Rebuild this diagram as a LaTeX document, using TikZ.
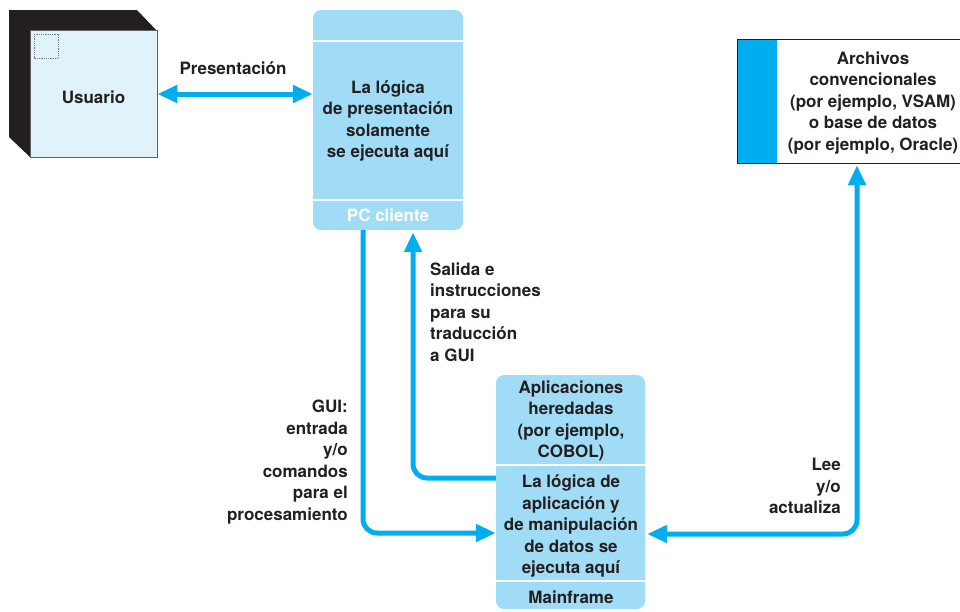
\documentclass[tikz,border=0pt]{standalone}
\usepackage{fontspec}
\setmainfont{TeX Gyre Heros}
\usetikzlibrary{arrows.meta,positioning}
\definecolor{boxblue}{RGB}{160,220,246}
\definecolor{flowcyan}{RGB}{0,174,239}
\definecolor{userface}{RGB}{224,242,250}
\definecolor{ink}{RGB}{35,31,32}

\begin{document}
\begin{tikzpicture}[x=1pt, y=-1pt, >={Triangle[length=20pt,width=17pt]},
    every node/.style={font=\fontsize{17}{21.5}\selectfont\bfseries, text=ink},
    bluebox/.style={fill=boxblue, rounded corners=8pt, inner sep=0pt},
    divider/.style={white, line width=2pt},
    flow/.style={flowcyan, line width=5pt, rounded corners=14pt},
    lbl/.style={align=left, inner sep=0pt}]
    \useasboundingbox (0,0) rectangle (960,611);
    % usuario (cube)
    \fill[ink] (9,10) -- (137,10) -- (157,31) -- (157,157) -- (30,157) -- (9,137) -- cycle;
    \node[fill=userface, draw=ink!70, line width=0.8pt, minimum size=127pt, inner sep=0pt, text height=20pt] (user) at (93.5,94) {Usuario};
    \draw[ink!60, densely dotted, line width=0.8pt] (34,34) rectangle (58,58);
    % PC cliente
    \node[bluebox, minimum width=150pt, minimum height=220pt] (pc) at (388,120) {};
    \draw[divider] (pc.west |- 0,41) -- (pc.east |- 0,41);
    \draw[divider] (pc.west |- 0,200) -- (pc.east |- 0,200);
    \node[align=center] (pctext) at (388,121) {La lógica\\de presentación\\solamente\\se ejecuta aquí};
    \node[text=white] (pclabel) at (388,215) {PC cliente};
    % mainframe
    \node[bluebox, minimum width=149pt, minimum height=234pt] (mf) at (570.5,492) {};
    \draw[divider] (mf.west |- 0,465) -- (mf.east |- 0,465);
    \draw[divider] (mf.west |- 0,581) -- (mf.east |- 0,581);
    \node[align=center] (legacy) at (571,421) {Aplicaciones\\heredadas\\(por ejemplo,\\COBOL)};
    \node[align=center] (mflogic) at (571,526) {La lógica de\\aplicación y\\de manipulación\\de datos se\\ejecuta aquí};
    \node (mflabel) at (571,597) {Mainframe};
    % archivos
    \node[fill=white, minimum width=224pt, minimum height=123pt, inner sep=0pt] (files) at (850,101.5) {};
    \fill[flowcyan] (files.north west) rectangle ([xshift=39pt]files.south west);
    \draw[ink, line width=1pt] (files.north west) rectangle (files.south east);
    \node[align=center] (filestext) at (873,103) {Archivos\\convencionales\\(por ejemplo, VSAM)\\o base de datos\\(por ejemplo, Oracle)};
    % connector ends
    \path (pc.south) ++(-25,0) coordinate (pcout);
    \path (pc.south) ++(25,0) coordinate (pcin);
    \path (mf.west) ++(0,-14) coordinate (guiout);
    \path (mf.west |- mflogic) ++(0,7) coordinate (guiin);
    \path (mf.east |- mflogic) ++(0,8) coordinate (dbin);
    \path (files.south) ++(7,0) coordinate (dbout);
    % flows
    \draw[flow, <->] (user.east) -- (pc.west |- user.east);
    \draw[flow, ->] (pcout) |- (guiin);
    \draw[flow, ->, shorten >=2pt] (guiout) -| (pcin);
    \draw[flow, <->, shorten <=2pt, shorten >=2pt] (dbout) |- (dbin);
    % labels
    \node (presentlabel) at (233,68) {Presentación};
    \node[lbl, anchor=west] (outlabel) at (430,312) {Salida e\\instrucciones\\para su\\traducción\\a GUI};
    \node[lbl, align=right, anchor=east] (guilabel) at (348,462) {GUI:\\entrada\\y/o\\comandos\\para el\\procesamiento};
    \node[lbl, align=right, anchor=east] (dblabel) at (841,486) {Lee\\y/o\\actualiza};
\end{tikzpicture}
\end{document}
